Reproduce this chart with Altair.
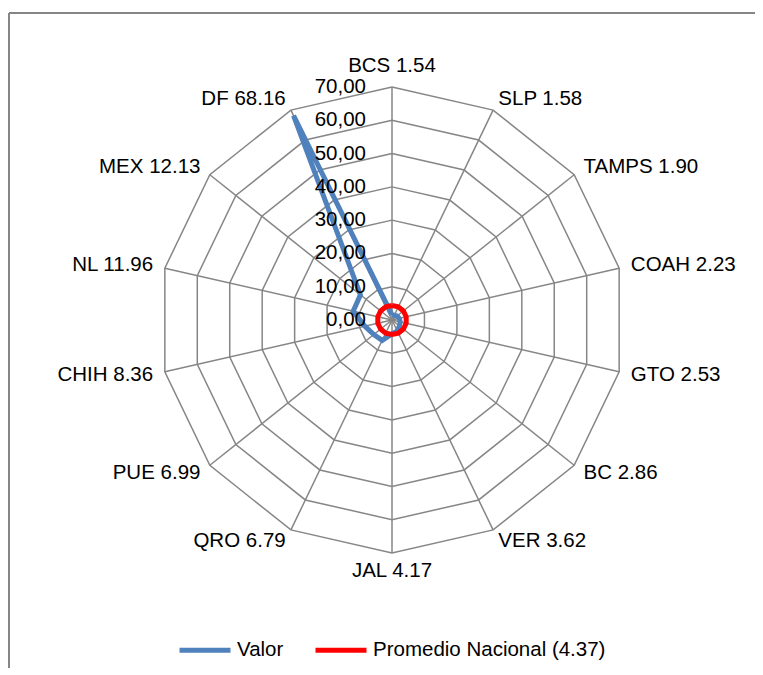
import altair as alt
import pandas as pd

# ---------------- data ----------------
categories = ["BCS", "SLP", "TAMPS", "COAH", "GTO", "BC", "VER",
              "JAL", "QRO", "PUE", "CHIH", "NL", "MEX", "DF"]
values = [1.54, 1.58, 1.90, 2.23, 2.53, 2.86, 3.62,
          4.17, 6.79, 6.99, 8.36, 11.96, 12.13, 68.16]
national_avg = 4.37
ring_values = [0, 10, 20, 30, 40, 50, 60, 70]
series_names = ["Valor", "Promedio Nacional (4.37)"]
series_colors = ["#4F81BD", "#FF0000"]

N = len(categories)
R_MAX = ring_values[-1]

# ---------------- layout ----------------
W, H = 747, 660
CX, CY = 384, 312            # centre of the radar in plot pixels
PX = 233 / R_MAX             # pixels per data unit
x_dom = [-CX / PX, (W - CX) / PX]
y_dom = [-(H - CY) / PX, CY / PX]
LABEL_R = R_MAX + 12 / PX

FONT = "Liberation Sans"
FS = 20.5
GRID = "#868686"

# ---------------- tables ----------------
series_rows = []
for name, vals in zip(series_names, [values, [national_avg] * N]):
    for i in range(N + 1):
        series_rows.append({"series": name, "i": i,
                            "cat": categories[i % N], "v": vals[i % N]})
series_df = pd.DataFrame(series_rows)

ring_df = pd.DataFrame([{"ring": r, "i": i, "v": r}
                        for r in ring_values[1:] for i in range(N + 1)])
cat_df = pd.DataFrame({"i": list(range(N)), "cat": categories, "val": values})
tick_df = pd.DataFrame({"v": ring_values})

xs = alt.Scale(domain=x_dom, nice=False, zero=False)
ys = alt.Scale(domain=y_dom, nice=False, zero=False)


def polar(ch, rexpr, px="px", py="py"):
    return ch.transform_calculate(
        ang=f"2*PI*datum.i/{N}"
    ).transform_calculate(
        **{px: f"({rexpr})*sin(datum.ang)", py: f"({rexpr})*cos(datum.ang)"}
    )


X = alt.X("px:Q", scale=xs, axis=None)
Y = alt.Y("py:Q", scale=ys, axis=None)

# grid rings
rings = polar(alt.Chart(ring_df), "datum.v").mark_line(
    color=GRID, strokeWidth=1.5
).encode(x=X, y=Y, detail="ring:N", order="i:Q")

# spokes
spokes = polar(alt.Chart(cat_df), str(R_MAX)).transform_calculate(
    x0="0", y0="0"
).mark_rule(color=GRID, strokeWidth=1.5).encode(
    x=alt.X("x0:Q", scale=xs, axis=None),
    y=alt.Y("y0:Q", scale=ys, axis=None),
    x2="px:Q", y2="py:Q",
)

color = alt.Color(
    "series:N",
    scale=alt.Scale(domain=series_names, range=series_colors),
    legend=alt.Legend(
        title=None, orient="none", legendX=169, legendY=614,
        direction="horizontal", symbolType="stroke", symbolSize=2601,
        symbolStrokeWidth=5, labelFont=FONT, labelFontSize=FS,
        labelColor="#000000", columnPadding=21, labelOffset=4, padding=0,
        labelLimit=0,
    ),
)

valor = polar(alt.Chart(series_df).transform_filter(
    alt.datum.series == series_names[0]), "datum.v").mark_line(
    strokeWidth=5).encode(x=X, y=Y, color=color, order="i:Q")

prom = polar(alt.Chart(series_df).transform_filter(
    alt.datum.series == series_names[1]), "datum.v").mark_line(
    strokeWidth=5).encode(x=X, y=Y, color=color, order="i:Q")

# tick labels
ticks = alt.Chart(tick_df).transform_calculate(
    px="0", py="datum.v",
    label="replace(format(datum.v, '.2f'), '.', ',')"
).mark_text(align="right", baseline="middle", dx=-26,
            font=FONT, fontSize=FS, color="#000000").encode(
    x=X, y=Y, text="label:N")

# category labels
cat_base = polar(alt.Chart(cat_df), str(LABEL_R)).transform_calculate(
    label="datum.cat + ' ' + format(datum.val, '.2f')"
)
half = N // 2
lab_top = cat_base.transform_filter(alt.datum.i == 0).mark_text(
    align="center", baseline="alphabetic", dy=-3, font=FONT, fontSize=FS,
    color="#000000").encode(x=X, y=Y, text="label:N")
lab_bot = cat_base.transform_filter(alt.datum.i == half).mark_text(
    align="center", baseline="top", dy=-4, font=FONT, fontSize=FS,
    color="#000000").encode(x=X, y=Y, text="label:N")
lab_right = cat_base.transform_filter(
    (alt.datum.i > 0) & (alt.datum.i < half)).mark_text(
    align="left", baseline="middle", font=FONT, fontSize=FS,
    color="#000000").encode(x=X, y=Y, text="label:N")
lab_left = cat_base.transform_filter(alt.datum.i > half).mark_text(
    align="right", baseline="middle", font=FONT, fontSize=FS,
    color="#000000").encode(x=X, y=Y, text="label:N")

# outer frame (left and top edges visible)
frame_left = alt.Chart(tick_df).mark_rule(color=GRID, strokeWidth=2).encode(
    x=alt.value(1), y=alt.value(5), y2=alt.value(H))
frame_top = alt.Chart(tick_df).mark_rule(color=GRID, strokeWidth=2).encode(
    x=alt.value(1), x2=alt.value(W), y=alt.value(5))

chart = alt.layer(
    frame_left, frame_top, rings, spokes, valor, prom, ticks,
    lab_top, lab_bot, lab_right, lab_left,
).properties(
    width=W, height=H, padding=0,
    autosize=alt.AutoSizeParams(type="none"),
).configure_view(stroke=None)

chart.save("out.html", embed_options={"renderer": "svg", "actions": False})
